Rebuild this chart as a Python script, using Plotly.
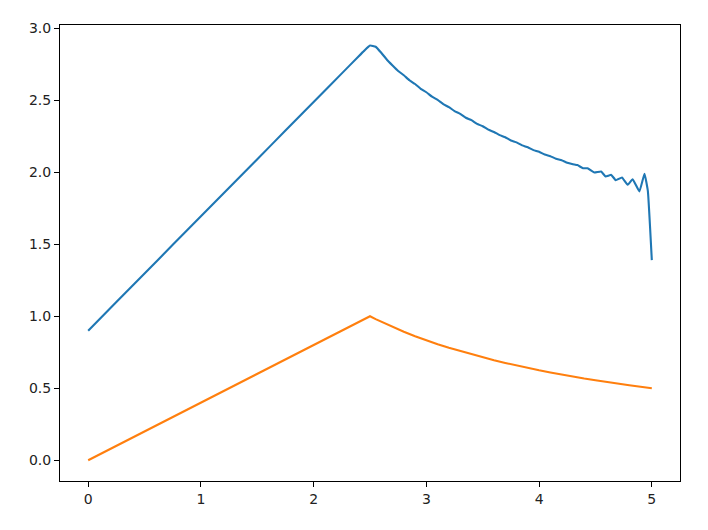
import plotly.graph_objects as go

# Blue series
blue_x = [0.0, 0.25, 0.5, 0.75, 1.0, 1.25, 1.5, 1.75, 2.0, 2.25, 2.4, 2.45, 2.5, 2.55,
          2.6, 2.65, 2.7, 2.75, 2.8, 2.85, 2.9, 2.95, 3.0, 3.05, 3.1, 3.15, 3.2, 3.25,
          3.3, 3.35, 3.4, 3.45, 3.5, 3.55, 3.6, 3.65, 3.7, 3.75, 3.8, 3.85, 3.9, 3.95,
          4.0, 4.05, 4.1, 4.15, 4.2, 4.25, 4.3, 4.34, 4.39, 4.43, 4.49, 4.55, 4.59,
          4.64, 4.68, 4.735, 4.785, 4.83, 4.89, 4.935, 4.965, 5.0]
blue_y = [0.900, 1.099, 1.297, 1.496, 1.694, 1.893, 2.091, 2.290, 2.488, 2.687, 2.806, 2.845,
          2.880, 2.872, 2.830, 2.782, 2.742, 2.704, 2.674, 2.639, 2.613, 2.580, 2.556, 2.525,
          2.503, 2.473, 2.453, 2.425, 2.406, 2.379, 2.362, 2.336, 2.320, 2.296, 2.280, 2.258,
          2.243, 2.221, 2.208, 2.187, 2.174, 2.154, 2.143, 2.123, 2.112, 2.094, 2.084, 2.066,
          2.056, 2.050, 2.028, 2.028, 1.998, 2.005, 1.971, 1.982, 1.945, 1.964, 1.913, 1.952,
          1.867, 1.990, 1.870, 1.390]

# Orange series
orange_x = [0.0, 0.25, 0.5, 0.75, 1.0, 1.25, 1.5, 1.75, 2.0, 2.25, 2.45, 2.5, 2.55, 2.6,
            2.7, 2.8, 2.9, 3.0, 3.1, 3.2, 3.3, 3.4, 3.5, 3.6, 3.7, 3.8, 3.9, 4.0, 4.1,
            4.2, 4.3, 4.4, 4.5, 4.6, 4.7, 4.8, 4.9, 5.0]
orange_y = [0.0, 0.10, 0.20, 0.30, 0.40, 0.50, 0.60, 0.70, 0.80, 0.90, 0.98, 1.00, 0.98, 0.962,
            0.926, 0.893, 0.862, 0.833, 0.806, 0.781, 0.758, 0.735, 0.714, 0.694, 0.676, 0.658,
            0.641, 0.625, 0.610, 0.595, 0.581, 0.568, 0.556, 0.543, 0.532, 0.521, 0.510, 0.500]

x_ticks = [0, 1, 2, 3, 4, 5]
y_ticks = [0.0, 0.5, 1.0, 1.5, 2.0, 2.5, 3.0]

fig = go.Figure()
fig.add_trace(go.Scatter(x=blue_x, y=blue_y, mode="lines",
                         line=dict(color="#1f77b4", width=2.1, shape="spline", smoothing=0.3),
                         showlegend=False))
fig.add_trace(go.Scatter(x=orange_x, y=orange_y, mode="lines",
                         line=dict(color="#ff7f0e", width=2.1), showlegend=False))

axis_common = dict(showline=True, mirror=True, linecolor="black", linewidth=1,
                   ticks="outside", ticklen=5, tickcolor="black", tickwidth=1,
                   showgrid=False, zeroline=False,
                   tickfont=dict(family="DejaVu Sans", size=14, color="#222"))

fig.update_layout(
    width=700, height=522,
    margin=dict(l=52, r=28, t=12, b=49),
    paper_bgcolor="white", plot_bgcolor="white",
    xaxis=dict(range=[-0.25, 5.25], tickvals=x_ticks, ticktext=[str(v) for v in x_ticks],
               **axis_common),
    yaxis=dict(range=[-0.144, 3.023], tickvals=y_ticks, ticktext=[f"{v:.1f}" for v in y_ticks],
               **axis_common),
)

fig.write_html("out.html")
